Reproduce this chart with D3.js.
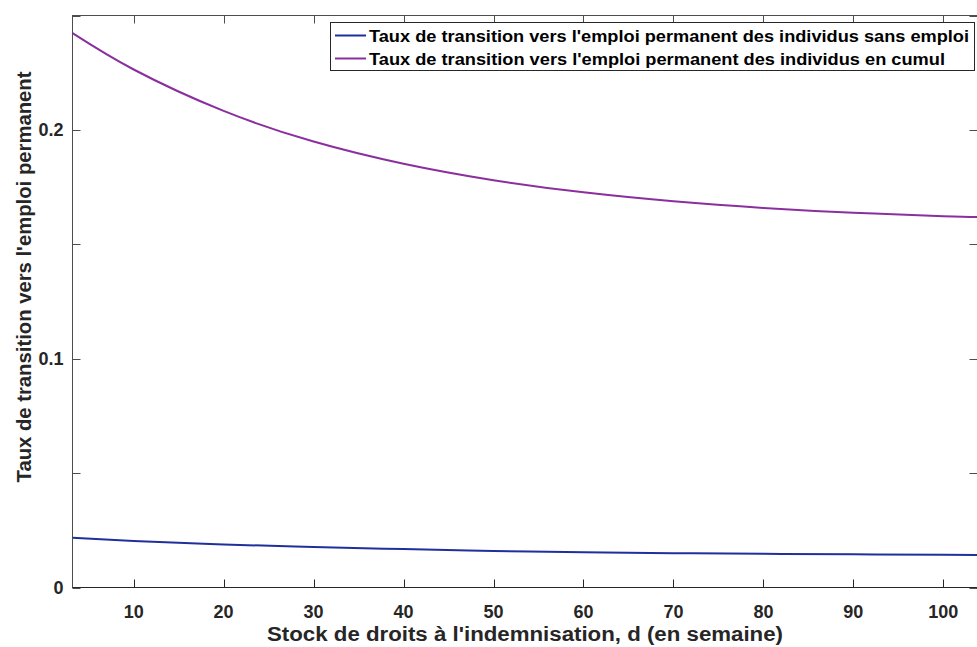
<!DOCTYPE html>
<html>
<head>
<meta charset="utf-8">
<script src="https://cdn.jsdelivr.net/npm/d3@7"></script>
<style>
  html, body { margin: 0; padding: 0; background: #fff; }
  svg { display: block; font-family: "Liberation Sans", Arial, Helvetica, sans-serif; }
</style>
</head>
<body>
<svg id="chart" width="977" height="647"></svg>
<script>
// ---- Data ----
const stockWeeks = [3.2, 10, 20, 30, 40, 50, 60, 70, 80, 90, 100, 103.8];
const tauxSansEmploi = [0.0217, 0.0203, 0.0188, 0.0177, 0.0168, 0.0160, 0.0154, 0.0150, 0.0147, 0.0145, 0.0143, 0.0142];
const tauxCumul = [0.2423, 0.2264, 0.2083, 0.1949, 0.1852, 0.1780, 0.1727, 0.1688, 0.1659, 0.1638, 0.1623, 0.1619];
const seriesNames = [
  "Taux de transition vers l'emploi permanent des individus sans emploi",
  "Taux de transition vers l'emploi permanent des individus en cumul"
];
const xTicks = [10, 20, 30, 40, 50, 60, 70, 80, 90, 100];
const yTicks = [0, 0.05, 0.1, 0.15, 0.2, 0.25];
const yTickLabels = ["0", "", "0.1", "", "0.2", ""];
const xLabel = "Stock de droits à l'indemnisation, d (en semaine)";
const yLabel = "Taux de transition vers l'emploi permanent";

// ---- Layout ----
const svg = d3.select("#chart");
const L = 72.5, R = 977.5, T = 15.5, B = 587.5;
const colors = ["#1f309c", "#8b2f9f"];
const axisColor = "#262626";

const x = d3.scaleLinear().domain([3.2, 103.8]).range([L, R]);
const y = d3.scaleLinear().domain([0, 0.25]).range([B, T]);

// frame
const g = svg.append("g");
g.append("rect").attr("x", L).attr("y", T).attr("width", R - L).attr("height", B - T)
  .attr("fill", "none").attr("stroke", "#4d4d4d").attr("stroke-width", 1);
g.append("line").attr("x1", L).attr("x2", R).attr("y1", B).attr("y2", B)
  .attr("stroke", axisColor).attr("stroke-width", 1.2);

const tl = 8;
xTicks.forEach(v => {
  const px = Math.round(x(v)) + 0.5;
  g.append("line").attr("x1", px).attr("x2", px).attr("y1", B).attr("y2", B - tl).attr("stroke", axisColor);
  g.append("line").attr("x1", px).attr("x2", px).attr("y1", T).attr("y2", T + tl).attr("stroke", "#4d4d4d");
  g.append("text").attr("x", x(v)).attr("y", B + 30)
    .attr("text-anchor", "middle").attr("font-size", 18).attr("font-weight", "bold")
    .attr("fill", axisColor).text(d3.format("d")(v));
});

yTicks.forEach((v, i) => {
  const py = Math.round(y(v)) + 0.5;
  g.append("line").attr("x1", L).attr("x2", L + tl).attr("y1", py).attr("y2", py).attr("stroke", "#4d4d4d");
  g.append("line").attr("x1", R).attr("x2", R - tl).attr("y1", py).attr("y2", py).attr("stroke", "#4d4d4d");
  if (yTickLabels[i]) {
    g.append("text").attr("x", L - 9).attr("y", y(v) + 6.5)
      .attr("text-anchor", "end").attr("font-size", 18).attr("font-weight", "bold")
      .attr("fill", axisColor).text(yTickLabels[i]);
  }
});

// lines
const line = d3.line().x(d => x(d[0])).y(d => y(d[1])).curve(d3.curveNatural);
const series = [tauxSansEmploi, tauxCumul];
svg.append("clipPath").attr("id", "clip").append("rect")
  .attr("x", L).attr("y", T).attr("width", R - L).attr("height", B - T);
series.forEach((vals, i) => {
  svg.append("path").datum(stockWeeks.map((s, j) => [s, vals[j]]))
    .attr("d", line).attr("fill", "none").attr("stroke", colors[i]).attr("stroke-width", 2)
    .attr("clip-path", "url(#clip)");
});

// axis labels
svg.append("text").attr("x", 525).attr("y", 641)
  .attr("text-anchor", "middle").attr("font-size", 20).attr("font-weight", "bold")
  .attr("textLength", 516).attr("lengthAdjust", "spacingAndGlyphs")
  .attr("fill", axisColor).text(xLabel);
svg.append("text").attr("transform", "translate(31,277) rotate(-90)")
  .attr("text-anchor", "middle").attr("font-size", 20).attr("font-weight", "bold")
  .attr("textLength", 411).attr("lengthAdjust", "spacingAndGlyphs")
  .attr("fill", axisColor).text(yLabel);

// legend
const legendWidths = [600, 576];
const lg = svg.append("g");
lg.append("rect").attr("x", 330.5).attr("y", 22.5).attr("width", 644).attr("height", 48)
  .attr("fill", "#fff").attr("stroke", axisColor).attr("stroke-width", 1);
seriesNames.forEach((name, i) => {
  const ly = 35.5 + i * 23;
  lg.append("line").attr("x1", 335).attr("x2", 366).attr("y1", ly).attr("y2", ly)
    .attr("stroke", colors[i]).attr("stroke-width", 2);
  lg.append("text").attr("x", 369).attr("y", ly + 6)
    .attr("font-size", 17).attr("font-weight", "bold").attr("fill", "#000")
    .attr("textLength", legendWidths[i]).attr("lengthAdjust", "spacingAndGlyphs")
    .text(name);
});
</script>
</body>
</html>
